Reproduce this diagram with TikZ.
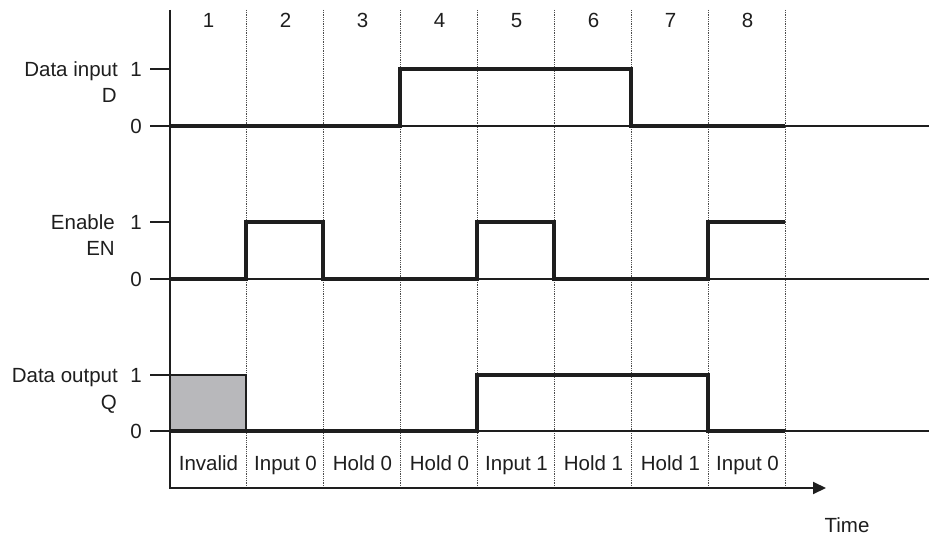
\documentclass[tikz,border=0pt]{standalone}
\usepackage{fontspec}
\setmainfont{Liberation Sans}
\usetikzlibrary{arrows.meta}

\definecolor{boxgray}{RGB}{184,184,187}
\definecolor{inkblack}{RGB}{30,30,30}

\tikzset{
  wave/.style={line width=4.5pt, inkblack},
  axisline/.style={line width=2pt, inkblack},
  levelline/.style={line width=2pt, inkblack},
  gridline/.style={densely dotted, line width=0.8pt, black!70},
  lbl/.style={inner sep=0pt, text height=14.5pt, text depth=0pt, text=inkblack}
}

\begin{document}
\begin{tikzpicture}[x=1pt, y=-1pt, font=\fontsize{20.5}{24}\selectfont]
  \useasboundingbox (0,0) rectangle (929,535);

  % column grid and numbers
  \foreach \x in {246,323,...,785} {
    \draw[gridline] (\x,10) -- (\x,488);
  }
  \foreach \i in {1,...,8} {
    \node[lbl] (col\i) at ({131.5+77*\i},20) {\i};
  }

  % level lines, ticks and labels
  \foreach \sig/\hi/\lo in {d/69/126, en/222/279, q/375/431} {
    \draw[levelline] (150,\lo) -- (929,\lo);
    \draw[levelline] (150,\hi) -- (170,\hi);
    \node[lbl] (\sig hi) at (136,\hi) {1};
    \node[lbl] (\sig lo) at (136,\lo) {0};
  }
  \node[lbl, anchor=east] (dname) at (118,69) {Data input};
  \node[lbl, anchor=east] (dsym) at (117,95) {D};
  \node[lbl, anchor=east] (enname) at (115,222) {Enable};
  \node[lbl, anchor=east] (ensym) at (115,248) {EN};
  \node[lbl, anchor=east] (qname) at (118,375) {Data output};
  \node[lbl, anchor=east] (qsym) at (117,402) {Q};

  % invalid region of Q
  \filldraw[fill=boxgray, draw=inkblack, line width=2.5pt] (170,375) rectangle (246,431);

  % waveforms
  \draw[wave] (170,126) -- (400,126) -- (400,69) -- (631,69) -- (631,126) -- (785,126);
  \draw[wave] (170,279) -- (246,279) -- (246,222) -- (323,222) -- (323,279)
    -- (477,279) -- (477,222) -- (554,222) -- (554,279) -- (708,279) -- (708,222) -- (785,222);
  \draw[wave] (170,431) -- (477,431) -- (477,375) -- (708,375) -- (708,431) -- (785,431);

  % time axis
  \draw[axisline, -{Triangle[length=13pt, width=12pt]}] (170,10) -- (170,488) -- (826,488);
  \node[lbl, anchor=base] (time) at (847,532) {Time};

  % state labels
  \foreach \i/\t in {1/Invalid, 2/Input 0, 3/Hold 0, 4/Hold 0, 5/Input 1, 6/Hold 1, 7/Hold 1, 8/Input 0} {
    \node[lbl] (st\i) at ({131.5+77*\i},463) {\t};
  }
\end{tikzpicture}
\end{document}
